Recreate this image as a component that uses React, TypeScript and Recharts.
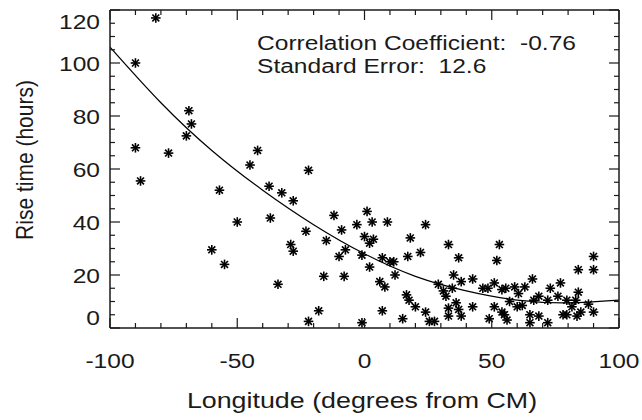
import React from 'react';
import { ComposedChart, Scatter, Line, XAxis, YAxis } from 'recharts';

// scatter points: longitude (deg from CM) and rise time (hours)
const pointLongitude = [
  -82, -90, -69, -68, -70, -90, -77, -42, -45, -88, -57, -37.5, -32.5, -50, -37, -60, -55, -34,
  -22, -28, -12, 1, -23, -9, -3, 3, 9, 24, -29, -28, -15, 0, 3.5, 2, 18, -7.5, -10, -1, 2, 7,
  10, 11.5, 17, 22, 12, -16, -8, 6, 8, 16.5, 17.5, 20, 24, -18, -22, 7, -1, 15, 25.5, 27.5,
  33, 53, 37, 52, 90, 84, 90, 35, 38, 42.5, 31, 34.5, 46.5, 48.5, 51, 54, 55.5, 59, 60.5, 63,
  66, 66.5, 68.5, 72, 73, 76, 77, 79.5, 83, 84, 88, 33, 36, 37, 33, 38, 42.5, 49, 51, 54,
  55, 56, 57, 60, 62, 65, 65, 68.5, 72, 78, 79.5, 81.5, 83.5, 85, 90, 29, 32,
];
const pointRiseTime = [
  117, 100, 82, 77, 72.5, 68, 66, 67, 61.5, 55.5, 52, 53.5, 51, 40, 41.5, 29.5, 24, 16.5,
  59.5, 48, 42.5, 44, 36.5, 37, 39, 40, 40, 39, 31.5, 29, 33, 34.5, 33.5, 32, 34, 29.5, 27, 27.5, 23, 26.5,
  25, 25, 27, 28.5, 20, 19.5, 19.5, 17.5, 15.5, 12.5, 10.5, 8, 6, 6.5, 2.5, 6.5, 2, 3.5, 2.5, 2.5,
  31.5, 31.5, 26.5, 25.5, 27, 22, 22, 20, 17.5, 18.5, 14, 15, 15, 15, 17, 14.5, 15, 15.5, 13, 15.5,
  18.5, 10.5, 12, 10.5, 15, 12, 17, 10.5, 10.5, 13.5, 9, 7.5, 9.5, 7, 4.5, 4.5, 8, 3.5, 8, 6,
  5, 3, 10, 8, 8.5, 5, 2, 4.5, 2, 5, 5, 8, 4.5, 6, 6, 16.5, 12,
];

// fitted curve, sampled off the figure
const fitLongitude = [-100, -80, -60, -40, -20, 0, 20, 40, 60, 80, 100];
const fitRiseTime = [106, 85, 67, 52, 39, 28, 19.5, 14, 10.5, 9.5, 10.5];

const xTicks = [-100, -90, -80, -70, -60, -50, -40, -30, -20, -10, 0, 10, 20, 30, 40, 50, 60, 70, 80, 90, 100];
const xLabelTicks = [-100, -50, 0, 50, 100];
const yTicks = [0, 5, 10, 15, 20, 25, 30, 35, 40, 45, 50, 55, 60, 65, 70, 75, 80, 85, 90, 95, 100, 105, 110, 115, 120];
const yLabelTicks = [0, 20, 40, 60, 80, 100, 120];

const statLines = ['Correlation Coefficient:  -0.76', 'Standard Error:  12.6'];

const scatterData = pointLongitude.map((x, i) => ({ x, y: pointRiseTime[i] }));
const fitData = fitLongitude.map((x, i) => ({ x, y: fitRiseTime[i] }));

const FONT = '"Liberation Sans", Arial, Helvetica, sans-serif';
const INK = '#1a1a1a';
const STRETCH = 1.17;

const Asterisk = (props: any) => {
  const { cx, cy } = props;
  if (cx == null || cy == null) return null;
  const r = 4.8;
  const d = r * 0.72;
  return (
    <g stroke="#000" strokeWidth={1.6}>
      <line x1={cx} y1={cy - r} x2={cx} y2={cy + r} />
      <line x1={cx - r} y1={cy} x2={cx + r} y2={cy} />
      <line x1={cx - d} y1={cy - d} x2={cx + d} y2={cy + d} />
      <line x1={cx - d} y1={cy + d} x2={cx + d} y2={cy - d} />
    </g>
  );
};

// inward ticks, labels only on majors
const BottomTick = (props: any) => {
  const { x, y, payload } = props;
  const v = payload.value;
  const major = xLabelTicks.includes(v);
  return (
    <g>
      <line x1={x} x2={x} y1={y} y2={y - (major ? 10 : 5)} stroke={INK} strokeWidth={1.2} />
      {major && (
        <text transform={`translate(${x},${y + 40}) scale(${STRETCH},1)`} textAnchor="middle" fontSize={21} fontFamily={FONT} fill={INK}>
          {v}
        </text>
      )}
    </g>
  );
};

const TopTick = (props: any) => {
  const { x, y, payload } = props;
  const major = xLabelTicks.includes(payload.value);
  return <line x1={x} x2={x} y1={y} y2={y + (major ? 10 : 5)} stroke={INK} strokeWidth={1.2} />;
};

const LeftTick = (props: any) => {
  const { x, y, payload } = props;
  const v = payload.value;
  const major = yLabelTicks.includes(v);
  // end labels are pulled inside the frame like in the original
  const dy = v === 120 ? 18.5 : v === 0 ? -3.5 : 7.5;
  return (
    <g>
      <line x1={x} x2={x + (major ? 10 : 5)} y1={y} y2={y} stroke={INK} strokeWidth={1.2} />
      {major && (
        <text transform={`translate(${x - 10},${y + dy}) scale(${STRETCH},1)`} textAnchor="end" fontSize={21} fontFamily={FONT} fill={INK}>
          {v}
        </text>
      )}
    </g>
  );
};

const RightTick = (props: any) => {
  const { x, y, payload } = props;
  const major = yLabelTicks.includes(payload.value);
  return <line x1={x} x2={x - (major ? 10 : 5)} y1={y} y2={y} stroke={INK} strokeWidth={1.2} />;
};

const frame = { stroke: INK, strokeWidth: 1.5 };

export default function App() {
  return (
    <div style={{ position: 'absolute', left: 0, top: 0, width: 642, height: 420, background: '#fff' }}>
      <ComposedChart width={642} height={420} margin={{ top: 9, right: 22, bottom: 91, left: 109 }}>
        <XAxis xAxisId="b" dataKey="x" type="number" domain={[-100, 100]} ticks={xTicks} interval={0}
          allowDataOverflow height={1} tickSize={0} tickMargin={0} tickLine={false} axisLine={frame} tick={<BottomTick />} />
        <XAxis xAxisId="t" orientation="top" dataKey="x" type="number" domain={[-100, 100]} ticks={xTicks} interval={0}
          allowDataOverflow height={1} tickSize={0} tickMargin={0} tickLine={false} axisLine={frame} tick={<TopTick />} />
        <YAxis yAxisId="l" type="number" domain={[0, 120]} ticks={yTicks} interval={0}
          allowDataOverflow width={1} tickSize={0} tickMargin={0} tickLine={false} axisLine={frame} tick={<LeftTick />} />
        <YAxis yAxisId="r" orientation="right" type="number" domain={[0, 120]} ticks={yTicks} interval={0}
          allowDataOverflow width={1} tickSize={0} tickMargin={0} tickLine={false} axisLine={frame} tick={<RightTick />} />
        <Line xAxisId="b" yAxisId="l" data={fitData} dataKey="y" type="natural" stroke="#000" strokeWidth={1.2}
          dot={false} activeDot={false} isAnimationActive={false} />
        <Scatter xAxisId="b" yAxisId="l" data={scatterData} dataKey="y" shape={<Asterisk />} isAnimationActive={false} />
      </ComposedChart>
      <svg width={642} height={420} style={{ position: 'absolute', left: 0, top: 0, pointerEvents: 'none' }}>
        {statLines.map((s, i) => (
          <text key={s} transform={`translate(257,${50 + i * 23}) scale(${STRETCH},1)`} fontSize={21} fontFamily={FONT}
            fill={INK} style={{ whiteSpace: 'pre' }}>
            {s}
          </text>
        ))}
        <text transform="translate(362,408) scale(1.22,1)" textAnchor="middle" fontSize={22} fontFamily={FONT} fill={INK}>
          Longitude (degrees from CM)
        </text>
        <text transform={`translate(33,160) rotate(-90) scale(1,${STRETCH})`} textAnchor="middle" fontSize={21} fontFamily={FONT} fill={INK}>
          Rise time (hours)
        </text>
      </svg>
    </div>
  );
}
